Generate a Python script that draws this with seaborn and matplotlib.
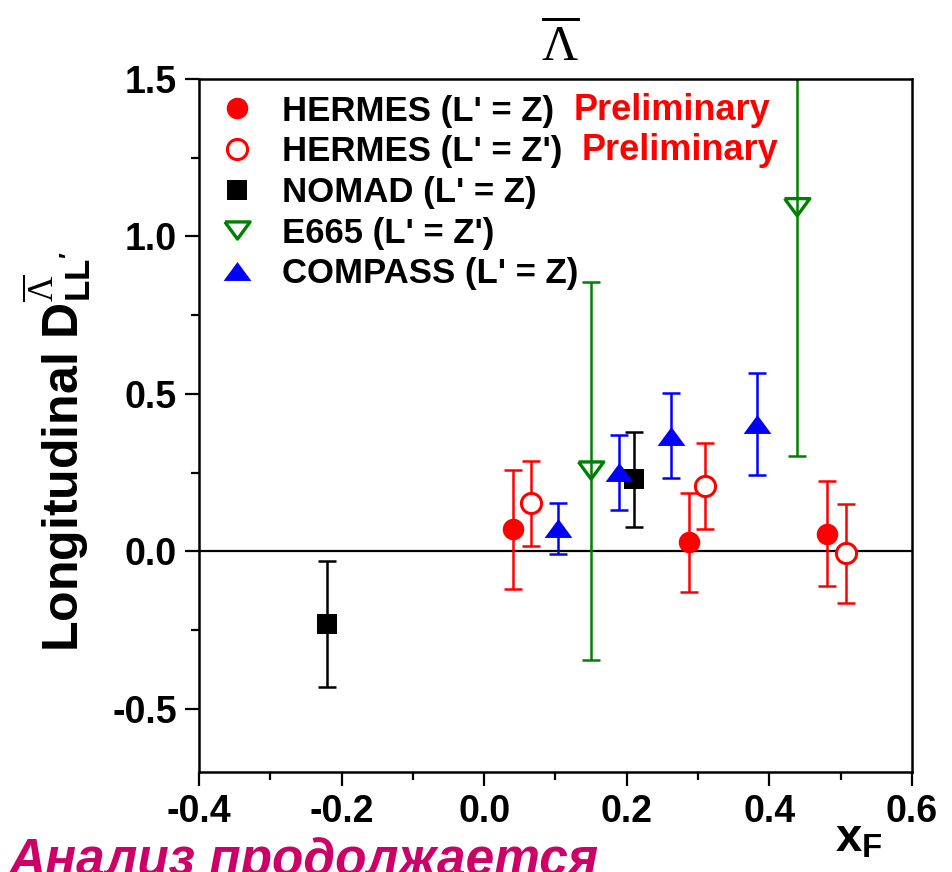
import matplotlib
matplotlib.use("Agg")
import matplotlib.pyplot as plt
import seaborn as sns
from matplotlib.lines import Line2D
from matplotlib.ticker import MultipleLocator, FormatStrFormatter

# Data (x_F, D_LL', symmetric error)
hermes_x = [0.040, 0.287, 0.481]
hermes_y = [0.070, 0.029, 0.057]
hermes_err = [0.190, 0.158, 0.167]

hermes_p_x = [0.066, 0.310, 0.507]
hermes_p_y = [0.153, 0.207, -0.006]
hermes_p_err = [0.135, 0.137, 0.156]

nomad_x = [-0.220, 0.210]
nomad_y = [-0.229, 0.229]
nomad_err = [0.200, 0.150]

e665_x = [0.150, 0.439]
e665_y = [0.257, 1.093]
e665_err = [0.600, 0.790]

compass_x = [0.103, 0.189, 0.262, 0.383]
compass_y = [0.073, 0.251, 0.368, 0.404]
compass_err = [0.080, 0.120, 0.135, 0.162]

labels = ["HERMES (L' = Z)", "HERMES (L' = Z')", "NOMAD (L' = Z)",
          "E665 (L' = Z')", "COMPASS (L' = Z)"]
x_ticks = [-0.4, -0.2, 0.0, 0.2, 0.4, 0.6]
y_ticks = [-0.5, 0.0, 0.5, 1.0, 1.5]

# Style
sns.set_style("ticks")
plt.rcParams["font.family"] = ["Liberation Sans", "DejaVu Sans"]
plt.rcParams["axes.unicode_minus"] = False
plt.rcParams["text.color"] = "black"
plt.rcParams["xtick.color"] = "black"
plt.rcParams["ytick.color"] = "black"
plt.rcParams["mathtext.fontset"] = "custom"
plt.rcParams["mathtext.rm"] = "Liberation Serif"
plt.rcParams["mathtext.it"] = "Liberation Serif:italic"
plt.rcParams["mathtext.bf"] = "Liberation Sans:bold"
plt.rcParams["mathtext.sf"] = "Liberation Sans"

# flat triangles like in the original (closed paths so open ones draw all sides)
tri_up = [(-1, -0.68), (1, -0.68), (0, 0.68), (-1, -0.68)]
tri_down = [(-1, 0.68), (1, 0.68), (0, -0.68), (-1, 0.68)]

fig = plt.figure(figsize=(9.52, 8.72), dpi=100)
ax = fig.add_axes([0.209, 0.1147, 0.749, 0.7947])

ax.axhline(0, color="black", lw=1.6, zorder=1)

# (x, y, err, color, marker, facecolor, size, edge width)
series = [
    (hermes_x, hermes_y, hermes_err, "red", "o", "red", 240, 0),
    (hermes_p_x, hermes_p_y, hermes_p_err, "red", "o", "white", 210, 2.2),
    (nomad_x, nomad_y, nomad_err, "black", "s", "black", 200, 0),
    (e665_x, e665_y, e665_err, "green", tri_down, "none", 330, 2.4),
    (compass_x, compass_y, compass_err, "blue", tri_up, "blue", 400, 0),
]

handles = []
for (xs, ys, errs, c, m, fc, s, lw), lab in zip(series, labels):
    ax.errorbar(xs, ys, yerr=errs, fmt="none", ecolor=c, elinewidth=1.8,
                capsize=6.5, capthick=1.8, zorder=2)
    sns.scatterplot(x=xs, y=ys, marker=m, s=s, color=c, facecolor=fc,
                    edgecolor=c, linewidth=lw, ax=ax, zorder=3)
    handles.append(Line2D([], [], linestyle="none", marker=m,
                          markersize=s ** 0.5, markerfacecolor=fc,
                          markeredgecolor=c, markeredgewidth=lw, label=lab))

ax.set_xlim(-0.4, 0.6)
ax.set_ylim(-0.7, 1.5)
ax.set_xticks(x_ticks)
ax.set_yticks(y_ticks)
ax.xaxis.set_minor_locator(MultipleLocator(0.1))
ax.yaxis.set_minor_locator(MultipleLocator(0.25))
ax.xaxis.set_major_formatter(FormatStrFormatter("%.1f"))
ax.yaxis.set_major_formatter(FormatStrFormatter("%.1f"))
ax.tick_params(which="major", direction="out", length=10, width=1.6,
               labelsize=27, pad=6, colors="black")
ax.tick_params(which="minor", direction="out", length=5.5, width=1.6,
               colors="black")
for lbl in ax.get_xticklabels() + ax.get_yticklabels():
    lbl.set_fontweight("bold")
for sp in ax.spines.values():
    sp.set_linewidth(1.8)
    sp.set_color("black")

leg = ax.legend(handles=handles, loc="upper left", bbox_to_anchor=(0.0, 0.985),
                frameon=False, prop={"weight": "bold", "size": 25},
                handlelength=1.9, handletextpad=0.35, labelspacing=0.22,
                borderpad=0.15, borderaxespad=0)
for t in leg.get_texts():
    t.set_color("black")

# put the red "Preliminary" right after the first two legend entries
fig.canvas.draw()
W, H = fig.get_size_inches() * fig.dpi
for t in leg.get_texts()[:2]:
    bb = t.get_window_extent()
    fig.text((bb.x1 + 19) / W, bb.y0 / H, "Preliminary", color="red",
             fontsize=26, fontweight="bold", ha="left", va="bottom")

# Labels
fig.text(0.588, 0.947, r"$\overline{\Lambda}$", fontsize=36,
         ha="center", va="center")
fig.text(0.060, 0.482, r"Longitudinal D$^{\overline{\Lambda}}_{\mathbf{LL'}}$",
         rotation=90, fontsize=36, fontweight="bold", ha="center", va="center")
fig.text(0.877, 0.023, r"$\mathbf{x}_\mathbf{F}$", fontsize=34,
         ha="left", va="baseline")
fig.text(0.008, -0.004, "Анализ продолжается", fontsize=37, fontweight="bold",
         style="italic", color="#CC0066", ha="left", va="baseline")

fig.savefig("out.png", dpi=100)
